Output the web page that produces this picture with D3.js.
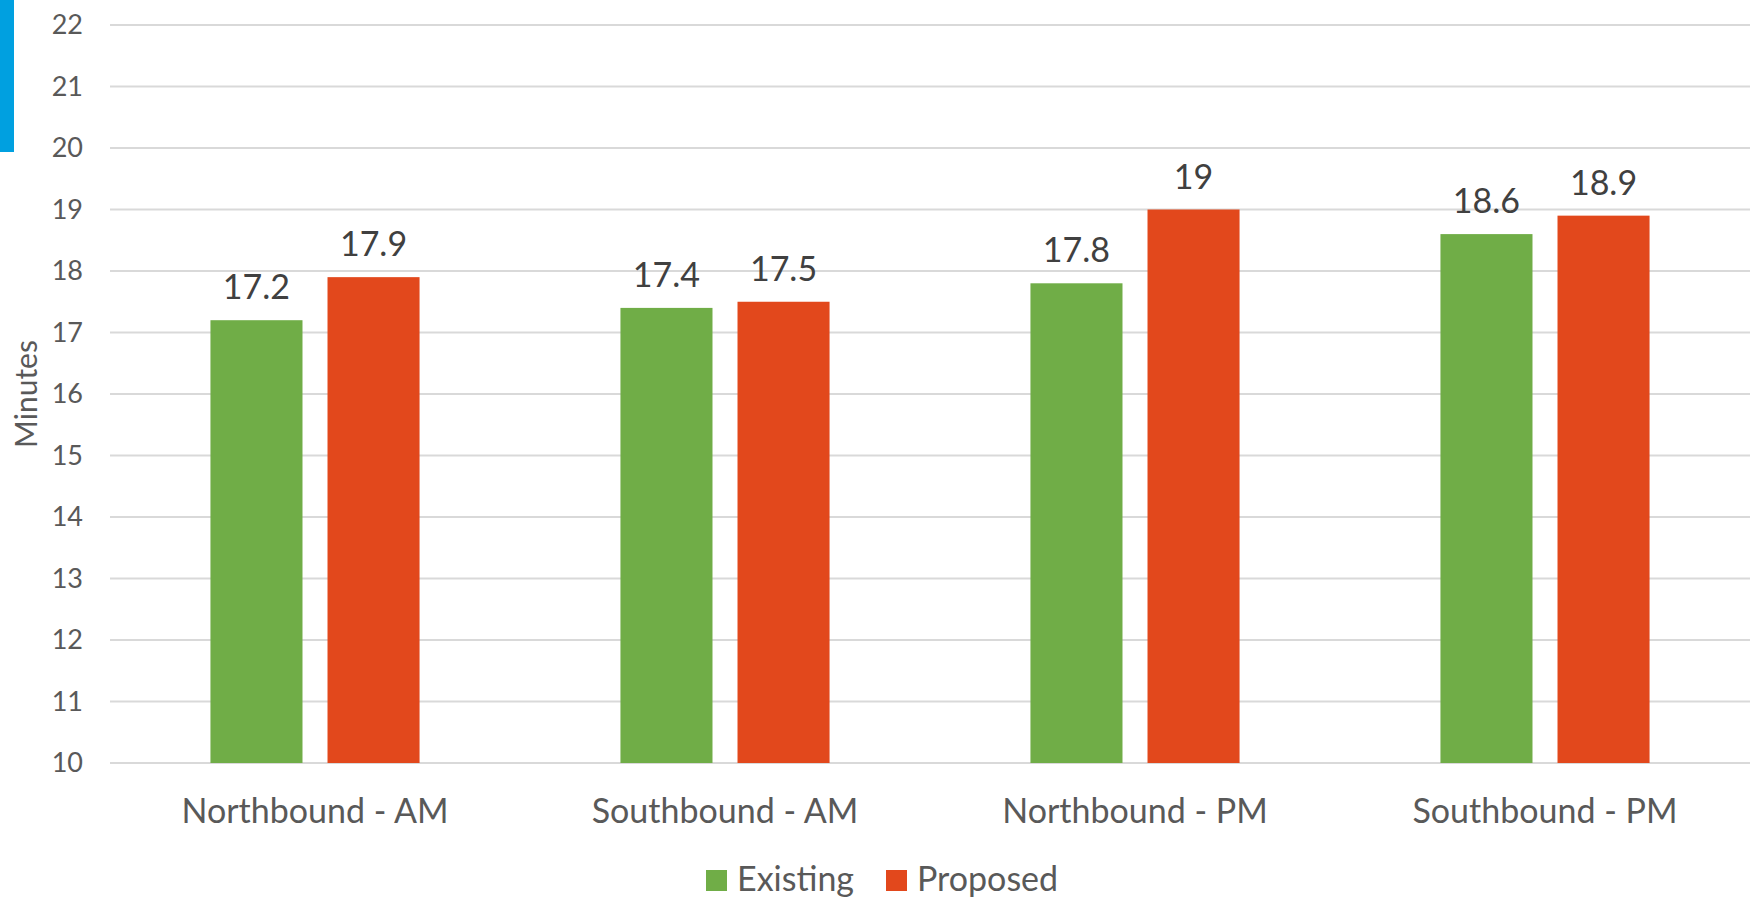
<!DOCTYPE html>
<html>
<head>
<meta charset="utf-8">
<script src="https://cdn.jsdelivr.net/npm/d3@7"></script>
<style>
  body { margin: 0; background: #fff; }
  svg { display: block; font-family: Lato, "Open Sans", sans-serif; }
</style>
</head>
<body>
<script>
// chart data
const categories = ['Northbound - AM', 'Southbound - AM', 'Northbound - PM', 'Southbound - PM'];
const seriesNames = ['Existing', 'Proposed'];
const existing = [17.2, 17.4, 17.8, 18.6];
const proposed = [17.9, 17.5, 19, 18.9];
const yTicks = [10, 11, 12, 13, 14, 15, 16, 17, 18, 19, 20, 21, 22];
const colors = ['#70AD47', '#E2481C'];

const width = 1754, height = 907;
const plotLeft = 110, plotRight = 1750, plotTop = 25, plotBottom = 763;

const svg = d3.select('body').append('svg')
  .attr('width', width)
  .attr('height', height);

// blue accent strip at top left
svg.append('rect')
  .attr('x', 0).attr('y', 0)
  .attr('width', 14).attr('height', 152)
  .attr('fill', '#00A0E0');

const y = d3.scaleLinear().domain([10, 22]).range([plotBottom, plotTop]);

const x0 = d3.scaleBand().domain(categories)
  .range([plotLeft, plotRight])
  .paddingInner(0.49).paddingOuter(0.245);

const x1 = d3.scaleBand().domain(seriesNames)
  .range([0, x0.bandwidth()])
  .paddingInner(0.2137);

// gridlines
svg.append('g')
  .selectAll('line')
  .data(yTicks)
  .enter().append('line')
  .attr('x1', plotLeft).attr('x2', plotRight)
  .attr('y1', d => y(d)).attr('y2', d => y(d))
  .attr('stroke', '#D9D9D9')
  .attr('stroke-width', 2);

// y tick labels
svg.append('g')
  .selectAll('text')
  .data(yTicks)
  .enter().append('text')
  .attr('x', 83)
  .attr('y', d => y(d))
  .attr('dy', '0.35em')
  .attr('text-anchor', 'end')
  .attr('fill', '#595959')
  .style('font-size', '27px')
  .text(d => d);

// y axis title
svg.append('text')
  .attr('transform', `translate(37, ${(plotTop + plotBottom) / 2}) rotate(-90)`)
  .attr('text-anchor', 'middle')
  .attr('fill', '#595959')
  .style('font-size', '30px')
  .text('Minutes');

const rows = categories.map((c, i) => ({
  category: c,
  values: [existing[i], proposed[i]]
}));

const groups = svg.append('g')
  .selectAll('g')
  .data(rows)
  .enter().append('g')
  .attr('transform', d => `translate(${x0(d.category)},0)`);

groups.selectAll('rect')
  .data(d => d.values.map((v, j) => ({ name: seriesNames[j], value: v, j })))
  .enter().append('rect')
  .attr('x', d => x1(d.name))
  .attr('y', d => y(d.value))
  .attr('width', x1.bandwidth())
  .attr('height', d => y(10) - y(d.value))
  .attr('fill', d => colors[d.j]);

groups.selectAll('text')
  .data(d => d.values.map((v, j) => ({ name: seriesNames[j], value: v })))
  .enter().append('text')
  .attr('x', d => x1(d.name) + x1.bandwidth() / 2)
  .attr('y', d => y(d.value) - 21)
  .attr('text-anchor', 'middle')
  .attr('fill', '#404040')
  .style('font-size', '34px')
  .text(d => d.value);

// category labels
svg.append('g')
  .selectAll('text')
  .data(categories)
  .enter().append('text')
  .attr('x', d => x0(d) + x0.bandwidth() / 2)
  .attr('y', 823)
  .attr('text-anchor', 'middle')
  .attr('fill', '#595959')
  .style('font-size', '34px')
  .text(d => d);

// legend
const legendX = [706, 886];
const legend = svg.append('g')
  .selectAll('g')
  .data(seriesNames)
  .enter().append('g')
  .attr('transform', (d, i) => `translate(${legendX[i]}, 870)`);

legend.append('rect')
  .attr('width', 21).attr('height', 21)
  .attr('fill', (d, i) => colors[i]);

legend.append('text')
  .attr('x', 31)
  .attr('y', 21)
  .attr('fill', '#595959')
  .style('font-size', '34px')
  .text(d => d);
</script>
</body>
</html>
